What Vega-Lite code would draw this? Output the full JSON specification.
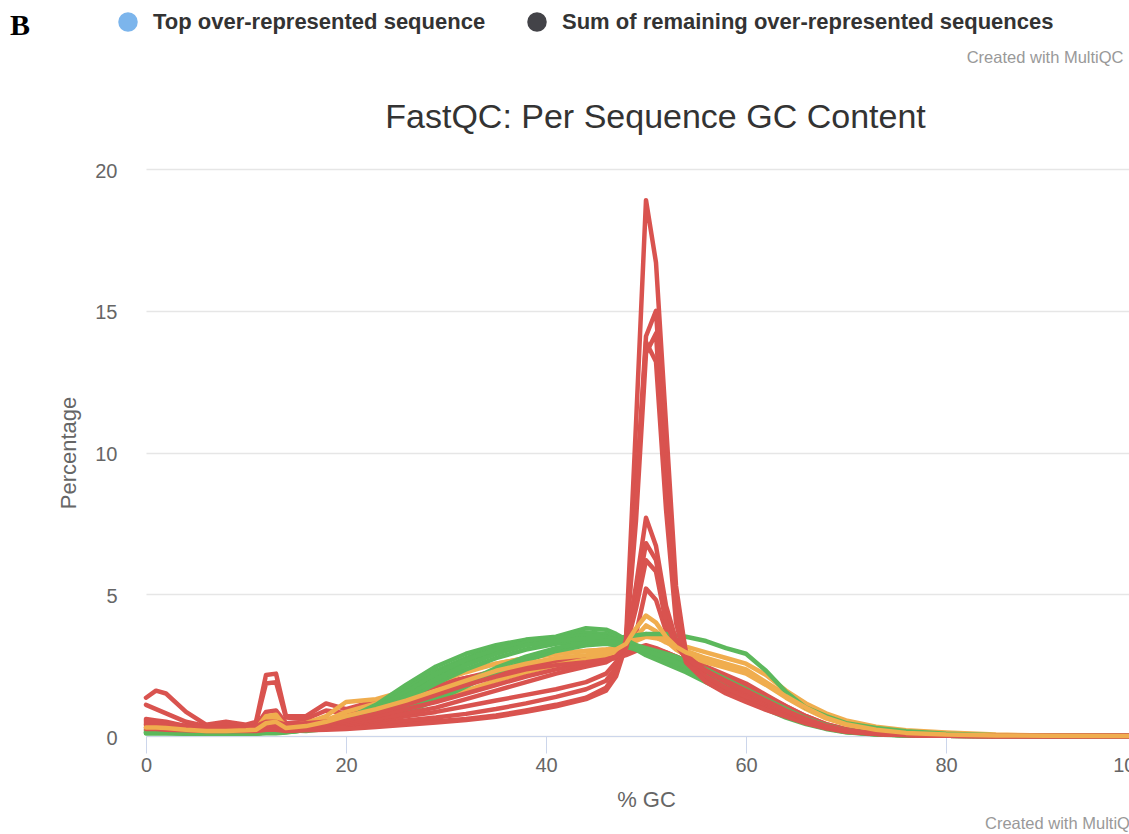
{
"$schema": "https://vega.github.io/schema/vega-lite/v6.json",
"width": 1000,
"height": 567,
"autosize": {"type": "none"},
"padding": {"left": 146, "top": 169, "right": 0, "bottom": 98},
"background": "white",
"config": {"font": "Liberation Sans", "view": {"stroke": null}},
"title": {"text": "Created with MultiQC", "orient": "bottom", "anchor": "start", "frame": "group", "dx": 839, "offset": 6, "fontSize": 16.5, "fontWeight": "normal", "color": "#999999", "font": "Liberation Sans"},
"layer": [
{
"data": {"values": [
{"gc":0,"r7":1.35,"r8":1.1,"r10":0.6,"o1":0.4,"o3":0.3,"o4":0.2,"g1":0.15,"g2":0.12,"g3":0.1,"g4":0.12,"g5":0.2,"g6":0.1,"g7":0.14,"g8":0.25,"r1":0.35,"r2":0.3,"r3":0.4,"r9":0.25,"r4":0.5,"r5":0.45,"r6":0.55,"o2":0.3},
{"gc":1,"r7":1.6,"r8":0.95,"r10":0.55,"o1":0.35,"o3":0.3,"o4":0.2,"g1":0.15,"g2":0.12,"g3":0.1,"g4":0.12,"g5":0.2,"g6":0.1,"g7":0.14,"g8":0.25,"r1":0.35,"r2":0.3,"r3":0.38,"r9":0.25,"r4":0.45,"r5":0.42,"r6":0.5,"o2":0.3},
{"gc":2,"r7":1.5,"r8":0.8,"r10":0.5,"o1":0.3,"o3":0.25,"o4":0.2,"g1":0.15,"g2":0.12,"g3":0.1,"g4":0.12,"g5":0.18,"g6":0.1,"g7":0.13,"g8":0.22,"r1":0.3,"r2":0.28,"r3":0.35,"r9":0.22,"r4":0.4,"r5":0.4,"r6":0.45,"o2":0.28},
{"gc":4,"r7":0.85,"r8":0.5,"r10":0.35,"o1":0.25,"o3":0.2,"o4":0.15,"g1":0.12,"g2":0.1,"g3":0.1,"g4":0.1,"g5":0.15,"g6":0.08,"g7":0.12,"g8":0.2,"r1":0.25,"r2":0.22,"r3":0.3,"r9":0.2,"r4":0.35,"r5":0.3,"r6":0.35,"o2":0.22},
{"gc":6,"r7":0.4,"r8":0.35,"r10":0.25,"o1":0.2,"o3":0.15,"o4":0.1,"g1":0.12,"g2":0.1,"g3":0.08,"g4":0.1,"g5":0.12,"g6":0.08,"g7":0.1,"g8":0.15,"r1":0.2,"r2":0.2,"r3":0.25,"r9":0.18,"r4":0.3,"r5":0.25,"r6":0.3,"o2":0.18},
{"gc":8,"r7":0.5,"r8":0.35,"r10":0.25,"o1":0.2,"o3":0.15,"o4":0.1,"g1":0.12,"g2":0.1,"g3":0.08,"g4":0.1,"g5":0.12,"g6":0.08,"g7":0.1,"g8":0.15,"r1":0.2,"r2":0.2,"r3":0.25,"r9":0.18,"r4":0.3,"r5":0.25,"r6":0.3,"o2":0.18},
{"gc":10,"r7":0.4,"r8":0.35,"r10":0.3,"o1":0.25,"o3":0.2,"o4":0.12,"g1":0.12,"g2":0.1,"g3":0.08,"g4":0.1,"g5":0.12,"g6":0.08,"g7":0.1,"g8":0.15,"r1":0.22,"r2":0.2,"r3":0.25,"r9":0.18,"r4":0.3,"r5":0.25,"r6":0.3,"o2":0.2},
{"gc":11,"r7":0.5,"r8":0.45,"r10":0.35,"o1":0.3,"o3":0.25,"o4":0.15,"g1":0.12,"g2":0.1,"g3":0.1,"g4":0.1,"g5":0.15,"g6":0.08,"g7":0.12,"g8":0.18,"r1":0.22,"r2":0.2,"r3":0.25,"r9":0.18,"r4":0.32,"r5":0.28,"r6":0.35,"o2":0.22},
{"gc":12,"r7":2.15,"r8":1.85,"r10":0.85,"o1":0.6,"o3":0.7,"o4":0.3,"g1":0.15,"g2":0.12,"g3":0.12,"g4":0.12,"g5":0.4,"g6":0.1,"g7":0.15,"g8":0.25,"r1":0.3,"r2":0.28,"r3":0.35,"r9":0.22,"r4":0.45,"r5":0.4,"r6":0.5,"o2":0.45},
{"gc":13,"r7":2.2,"r8":1.9,"r10":0.9,"o1":0.65,"o3":0.75,"o4":0.3,"g1":0.15,"g2":0.12,"g3":0.12,"g4":0.12,"g5":0.45,"g6":0.1,"g7":0.15,"g8":0.25,"r1":0.3,"r2":0.28,"r3":0.35,"r9":0.22,"r4":0.45,"r5":0.4,"r6":0.5,"o2":0.5},
{"gc":14,"r7":0.7,"r8":0.65,"r10":0.45,"o1":0.35,"o3":0.3,"o4":0.2,"g1":0.15,"g2":0.15,"g3":0.15,"g4":0.14,"g5":0.2,"g6":0.12,"g7":0.15,"g8":0.2,"r1":0.22,"r2":0.2,"r3":0.28,"r9":0.18,"r4":0.35,"r5":0.3,"r6":0.4,"o2":0.28},
{"gc":16,"r7":0.7,"r8":0.6,"r10":0.5,"o1":0.45,"o3":0.35,"o4":0.25,"g1":0.2,"g2":0.25,"g3":0.22,"g4":0.2,"g5":0.18,"g6":0.22,"g7":0.2,"g8":0.25,"r1":0.22,"r2":0.22,"r3":0.3,"r9":0.2,"r4":0.38,"r5":0.35,"r6":0.45,"o2":0.35},
{"gc":18,"r7":1.15,"r8":0.9,"r10":0.6,"o1":0.7,"o3":0.55,"o4":0.35,"g1":0.3,"g2":0.4,"g3":0.35,"g4":0.3,"g5":0.25,"g6":0.35,"g7":0.32,"g8":0.4,"r1":0.25,"r2":0.28,"r3":0.35,"r9":0.22,"r4":0.42,"r5":0.45,"r6":0.5,"o2":0.5},
{"gc":20,"r7":0.95,"r8":0.8,"r10":0.6,"o1":1.2,"o3":0.85,"o4":0.5,"g1":0.45,"g2":0.6,"g3":0.55,"g4":0.5,"g5":0.35,"g6":0.55,"g7":0.5,"g8":0.6,"r1":0.3,"r2":0.35,"r3":0.4,"r9":0.25,"r4":0.45,"r5":0.5,"r6":0.55,"o2":0.7},
{"gc":23,"r7":1.25,"r8":1.05,"r10":0.85,"o1":1.3,"o3":1.15,"o4":0.7,"g1":0.8,"g2":1.1,"g3":1.0,"g4":0.9,"g5":0.55,"g6":0.95,"g7":0.85,"g8":0.75,"r1":0.38,"r2":0.45,"r3":0.55,"r9":0.32,"r4":0.6,"r5":0.7,"r6":0.8,"o2":0.95},
{"gc":26,"r7":1.6,"r8":1.4,"r10":1.15,"o1":1.6,"o3":1.5,"o4":0.95,"g1":1.3,"g2":1.8,"g3":1.65,"g4":1.5,"g5":0.85,"g6":1.55,"g7":1.4,"g8":1.0,"r1":0.45,"r2":0.55,"r3":0.7,"r9":0.4,"r4":0.8,"r5":0.95,"r6":1.1,"o2":1.25},
{"gc":29,"r7":1.85,"r8":1.75,"r10":1.5,"o1":1.95,"o3":1.9,"o4":1.25,"g1":1.85,"g2":2.45,"g3":2.3,"g4":2.1,"g5":1.25,"g6":2.2,"g7":2.0,"g8":1.4,"r1":0.52,"r2":0.65,"r3":0.85,"r9":0.48,"r4":1.0,"r5":1.2,"r6":1.45,"o2":1.6},
{"gc":32,"r7":2.05,"r8":2.05,"r10":1.85,"o1":2.3,"o3":2.25,"o4":1.6,"g1":2.35,"g2":2.9,"g3":2.75,"g4":2.6,"g5":1.75,"g6":2.7,"g7":2.5,"g8":1.9,"r1":0.6,"r2":0.78,"r3":1.05,"r9":0.56,"r4":1.3,"r5":1.5,"r6":1.8,"o2":1.95},
{"gc":35,"r7":2.25,"r8":2.3,"r10":2.15,"o1":2.55,"o3":2.55,"o4":1.95,"g1":2.75,"g2":3.2,"g3":3.1,"g4":3.0,"g5":2.25,"g6":3.05,"g7":2.9,"g8":2.4,"r1":0.72,"r2":0.95,"r3":1.25,"r9":0.68,"r4":1.6,"r5":1.8,"r6":2.1,"o2":2.3},
{"gc":38,"r7":2.45,"r8":2.5,"r10":2.4,"o1":2.75,"o3":2.75,"o4":2.25,"g1":3.05,"g2":3.4,"g3":3.35,"g4":3.3,"g5":2.65,"g6":3.3,"g7":3.2,"g8":2.8,"r1":0.9,"r2":1.15,"r3":1.45,"r9":0.85,"r4":1.9,"r5":2.1,"r6":2.35,"o2":2.55},
{"gc":41,"r7":2.6,"r8":2.65,"r10":2.55,"o1":2.9,"o3":2.9,"o4":2.5,"g1":3.25,"g2":3.5,"g3":3.45,"g4":3.4,"g5":3.0,"g6":3.45,"g7":3.35,"g8":3.1,"r1":1.1,"r2":1.38,"r3":1.65,"r9":1.05,"r4":2.2,"r5":2.35,"r6":2.5,"o2":2.75},
{"gc":44,"r7":2.7,"r8":2.75,"r10":2.65,"o1":3.0,"o3":3.0,"o4":2.7,"g1":3.35,"g2":3.8,"g3":3.65,"g4":3.5,"g5":3.2,"g6":3.55,"g7":3.45,"g8":3.3,"r1":1.35,"r2":1.65,"r3":1.9,"r9":1.3,"r4":2.45,"r5":2.55,"r6":2.6,"o2":2.85},
{"gc":46,"r7":2.75,"r8":2.8,"r10":2.7,"o1":3.05,"o3":3.05,"o4":2.85,"g1":3.4,"g2":3.75,"g3":3.6,"g4":3.45,"g5":3.25,"g6":3.5,"g7":3.45,"g8":3.35,"r1":1.7,"r2":1.95,"r3":2.2,"r9":1.6,"r4":2.6,"r5":2.65,"r6":2.7,"o2":2.95},
{"gc":47,"r7":2.8,"r8":2.85,"r10":2.75,"o1":3.1,"o3":3.1,"o4":2.95,"g1":3.45,"g2":3.6,"g3":3.45,"g4":3.35,"g5":3.2,"g6":3.4,"g7":3.4,"g8":3.3,"r1":2.2,"r2":2.4,"r3":2.6,"r9":2.1,"r4":2.8,"r5":2.8,"r6":2.8,"o2":3.05},
{"gc":48,"r7":3.0,"r8":2.95,"r10":2.85,"o1":3.2,"o3":3.2,"o4":3.1,"g1":3.5,"g2":3.4,"g3":3.3,"g4":3.25,"g5":3.15,"g6":3.25,"g7":3.3,"g8":3.2,"r1":3.4,"r2":3.3,"r3":3.3,"r9":3.2,"r4":3.2,"r5":3.15,"r6":3.1,"o2":3.25},
{"gc":49,"r7":3.6,"r8":3.1,"r10":3.0,"o1":3.35,"o3":3.4,"o4":3.5,"g1":3.55,"g2":3.2,"g3":3.1,"g4":3.15,"g5":3.05,"g6":3.05,"g7":3.2,"g8":3.1,"r1":11.0,"r2":8.6,"r3":7.6,"r9":8.2,"r4":5.3,"r5":4.8,"r6":4.5,"o2":3.8},
{"gc":50,"r7":5.2,"r8":3.2,"r10":3.1,"o1":3.5,"o3":3.6,"o4":3.9,"g1":3.6,"g2":3.0,"g3":2.95,"g4":3.05,"g5":2.95,"g6":2.85,"g7":3.1,"g8":3.0,"r1":18.9,"r2":14.1,"r3":13.5,"r9":13.9,"r4":7.7,"r5":6.8,"r6":6.2,"o2":4.25},
{"gc":51,"r7":4.8,"r8":3.1,"r10":3.05,"o1":3.45,"o3":3.5,"o4":3.7,"g1":3.6,"g2":2.85,"g3":2.8,"g4":2.95,"g5":2.85,"g6":2.7,"g7":3.0,"g8":2.9,"r1":16.7,"r2":15.0,"r3":14.2,"r9":13.2,"r4":6.7,"r5":6.2,"r6":5.8,"o2":4.0},
{"gc":52,"r7":3.7,"r8":2.95,"r10":2.95,"o1":3.35,"o3":3.3,"o4":3.35,"g1":3.6,"g2":2.7,"g3":2.65,"g4":2.85,"g5":2.75,"g6":2.55,"g7":2.9,"g8":2.75,"r1":11.0,"r2":9.5,"r3":8.6,"r9":8.0,"r4":4.6,"r5":4.3,"r6":4.0,"o2":3.5},
{"gc":53,"r7":3.1,"r8":2.8,"r10":2.8,"o1":3.25,"o3":3.15,"o4":3.05,"g1":3.55,"g2":2.55,"g3":2.5,"g4":2.7,"g5":2.6,"g6":2.4,"g7":2.8,"g8":2.6,"r1":5.3,"r2":4.9,"r3":4.4,"r9":4.0,"r4":3.4,"r5":3.3,"r6":3.2,"o2":3.15},
{"gc":54,"r7":2.8,"r8":2.65,"r10":2.65,"o1":3.15,"o3":3.0,"o4":2.85,"g1":3.5,"g2":2.4,"g3":2.35,"g4":2.55,"g5":2.45,"g6":2.25,"g7":2.65,"g8":2.45,"r1":2.9,"r2":2.9,"r3":2.8,"r9":2.6,"r4":2.85,"r5":2.8,"r6":2.75,"o2":2.95},
{"gc":56,"r7":2.45,"r8":2.4,"r10":2.35,"o1":2.95,"o3":2.75,"o4":2.6,"g1":3.35,"g2":2.05,"g3":2.0,"g4":2.25,"g5":2.15,"g6":1.9,"g7":2.35,"g8":2.1,"r1":2.0,"r2":2.1,"r3":2.1,"r9":1.9,"r4":2.3,"r5":2.3,"r6":2.3,"o2":2.7},
{"gc":58,"r7":2.15,"r8":2.1,"r10":2.05,"o1":2.75,"o3":2.55,"o4":2.4,"g1":3.1,"g2":1.7,"g3":1.65,"g4":1.9,"g5":1.8,"g6":1.55,"g7":2.0,"g8":1.75,"r1":1.6,"r2":1.7,"r3":1.7,"r9":1.5,"r4":1.9,"r5":1.9,"r6":1.95,"o2":2.5},
{"gc":60,"r7":1.85,"r8":1.8,"r10":1.75,"o1":2.55,"o3":2.35,"o4":2.2,"g1":2.9,"g2":1.4,"g3":1.35,"g4":1.55,"g5":1.5,"g6":1.25,"g7":1.65,"g8":1.45,"r1":1.3,"r2":1.4,"r3":1.4,"r9":1.2,"r4":1.5,"r5":1.55,"r6":1.6,"o2":2.3},
{"gc":62,"r7":1.45,"r8":1.4,"r10":1.35,"o1":2.15,"o3":1.9,"o4":1.8,"g1":2.3,"g2":1.05,"g3":1.0,"g4":1.2,"g5":1.15,"g6":0.95,"g7":1.3,"g8":1.1,"r1":1.0,"r2":1.1,"r3":1.1,"r9":0.92,"r4":1.15,"r5":1.2,"r6":1.25,"o2":1.85},
{"gc":64,"r7":1.05,"r8":1.05,"r10":1.0,"o1":1.6,"o3":1.45,"o4":1.35,"g1":1.55,"g2":0.75,"g3":0.7,"g4":0.88,"g5":0.82,"g6":0.65,"g7":0.95,"g8":0.8,"r1":0.75,"r2":0.8,"r3":0.8,"r9":0.68,"r4":0.85,"r5":0.88,"r6":0.9,"o2":1.4},
{"gc":66,"r7":0.7,"r8":0.7,"r10":0.65,"o1":1.15,"o3":1.0,"o4":0.95,"g1":1.0,"g2":0.5,"g3":0.45,"g4":0.58,"g5":0.55,"g6":0.42,"g7":0.62,"g8":0.52,"r1":0.5,"r2":0.55,"r3":0.55,"r9":0.45,"r4":0.55,"r5":0.58,"r6":0.6,"o2":1.0},
{"gc":68,"r7":0.42,"r8":0.42,"r10":0.4,"o1":0.8,"o3":0.65,"o4":0.62,"g1":0.7,"g2":0.3,"g3":0.27,"g4":0.35,"g5":0.33,"g6":0.25,"g7":0.38,"g8":0.3,"r1":0.3,"r2":0.33,"r3":0.33,"r9":0.27,"r4":0.32,"r5":0.35,"r6":0.36,"o2":0.65},
{"gc":70,"r7":0.24,"r8":0.24,"r10":0.22,"o1":0.55,"o3":0.42,"o4":0.4,"g1":0.45,"g2":0.15,"g3":0.14,"g4":0.19,"g5":0.17,"g6":0.13,"g7":0.2,"g8":0.15,"r1":0.17,"r2":0.18,"r3":0.18,"r9":0.15,"r4":0.17,"r5":0.19,"r6":0.2,"o2":0.42},
{"gc":73,"r7":0.11,"r8":0.11,"r10":0.1,"o1":0.33,"o3":0.22,"o4":0.2,"g1":0.28,"g2":0.07,"g3":0.06,"g4":0.08,"g5":0.07,"g6":0.05,"g7":0.09,"g8":0.06,"r1":0.08,"r2":0.08,"r3":0.08,"r9":0.07,"r4":0.08,"r5":0.08,"r6":0.09,"o2":0.22},
{"gc":76,"r7":0.05,"r8":0.05,"r10":0.05,"o1":0.2,"o3":0.11,"o4":0.1,"g1":0.17,"g2":0.03,"g3":0.03,"g4":0.04,"g5":0.03,"g6":0.02,"g7":0.04,"g8":0.03,"r1":0.04,"r2":0.04,"r3":0.04,"r9":0.03,"r4":0.04,"r5":0.04,"r6":0.04,"o2":0.11},
{"gc":80,"r7":0.02,"r8":0.02,"r10":0.02,"o1":0.12,"o3":0.05,"o4":0.05,"g1":0.08,"g2":0.01,"g3":0.01,"g4":0.01,"g5":0.01,"g6":0.01,"g7":0.01,"g8":0.01,"r1":0.01,"r2":0.01,"r3":0.01,"r9":0.01,"r4":0.01,"r5":0.01,"r6":0.01,"o2":0.05},
{"gc":85,"r7":0.01,"r8":0.01,"r10":0.01,"o1":0.05,"o3":0.02,"o4":0.02,"g1":0.03,"g2":0,"g3":0,"g4":0,"g5":0,"g6":0,"g7":0,"g8":0,"r1":0,"r2":0,"r3":0,"r9":0,"r4":0,"r5":0,"r6":0,"o2":0.02},
{"gc":90,"r7":0,"r8":0,"r10":0,"o1":0.02,"o3":0.01,"o4":0.01,"g1":0.01,"g2":0,"g3":0,"g4":0,"g5":0,"g6":0,"g7":0,"g8":0,"r1":0,"r2":0,"r3":0,"r9":0,"r4":0,"r5":0,"r6":0,"o2":0.01},
{"gc":100,"r7":0,"r8":0,"r10":0,"o1":0,"o3":0,"o4":0,"g1":0,"g2":0,"g3":0,"g4":0,"g5":0,"g6":0,"g7":0,"g8":0,"r1":0,"r2":0,"r3":0,"r9":0,"r4":0,"r5":0,"r6":0,"o2":0}
]},
"transform": [{"fold": ["r7","r8","r10","o1","o3","o4","g1","g2","g3","g4","g5","g6","g7","g8","r1","r2","r3","r9","r4","r5","r6","o2"], "as": ["sample", "pct"]}],
"mark": {"type": "line", "strokeWidth": 4.5, "strokeJoin": "round", "strokeCap": "round"},
"encoding": {
"x": {"field": "gc", "type": "quantitative", "scale": {"domain": [0, 100], "nice": false, "zero": false},
"axis": {"title": "% GC", "values": [0, 20, 40, 60, 80, 100], "grid": false, "domainColor": "#ccd6eb", "tickColor": "#ccd6eb", "tickSize": 17, "labelPadding": 2, "labelFontSize": 20, "labelColor": "#666666", "labelFlush": false, "labelAlign": {"condition": {"test": "datum.value == 100", "value": "right"}, "value": "center"}, "titleFontSize": 22, "titleFontWeight": "normal", "titleColor": "#666666", "titlePadding": 14}},
"y": {"field": "pct", "type": "quantitative", "scale": {"domain": [0, 20], "nice": false},
"axis": {"title": "Percentage", "values": [0, 5, 10, 15, 20], "grid": true, "gridColor": "#e6e6e6", "gridWidth": 1.5, "domain": false, "ticks": false, "labelPadding": 29, "labelOffset": 2, "labelFontSize": 20, "labelColor": "#666666", "titleFontSize": 22, "titleFontWeight": "normal", "titleColor": "#666666", "titlePadding": 14}},
"color": {"field": "sample", "type": "nominal", "legend": null,
"scale": {"domain": ["r7","r8","r10","o1","o3","o4","g1","g2","g3","g4","g5","g6","g7","g8","r1","r2","r3","r9","r4","r5","r6","o2"],
"range": ["#d9534f","#d9534f","#d9534f","#f0ad4e","#f0ad4e","#f0ad4e","#5cb85c","#5cb85c","#5cb85c","#5cb85c","#5cb85c","#5cb85c","#5cb85c","#5cb85c","#d9534f","#d9534f","#d9534f","#d9534f","#d9534f","#d9534f","#d9534f","#f0ad4e"]}}
}
},
{
"data": {"values": [{"cat": "Top over-represented sequence"}, {"cat": "Sum of remaining over-represented sequences"}]},
"mark": {"type": "point", "filled": true, "opacity": 0},
"encoding": {
"x": {"datum": 0, "type": "quantitative", "scale": {"domain": [0, 1]},
"axis": {"orient": "top", "labels": false, "ticks": false, "domain": false, "grid": false, "title": "FastQC: Per Sequence GC Content", "titleX": 509, "titleY": -52, "titleAlign": "center", "titleBaseline": "middle", "titleAngle": 0, "titleFontSize": 34, "titleFontWeight": "normal", "titleColor": "#333333", "titleFont": "Liberation Sans"}},
"fill": {"field": "cat", "type": "nominal",
"scale": {"domain": ["Top over-represented sequence", "Sum of remaining over-represented sequences"], "range": ["#7cb5ec", "#434348"]},
"legend": {"title": "B", "orient": "none", "legendX": -136, "legendY": -158, "direction": "horizontal", "titleOrient": "left", "titleAnchor": "start", "titleFont": "Liberation Serif", "titleFontSize": 30, "titleFontWeight": "bold", "titleColor": "#000000", "titlePadding": 86, "titleBaseline": "top", "labelFont": "Liberation Sans", "labelFontSize": 22, "labelFontWeight": "bold", "labelColor": "#333333", "labelLimit": 700, "labelOffset": 14, "symbolType": "circle", "symbolSize": 380, "symbolStrokeWidth": 0, "symbolOpacity": 1, "columnPadding": 40, "padding": 0}}
}
},
{
"data": {"values": [{"note": "Created with MultiQC"}]},
"mark": {"type": "point", "opacity": 0},
"encoding": {
"x": {"datum": 0, "type": "quantitative", "scale": {"domain": [0, 1]},
"axis": {"orient": "top", "labels": false, "ticks": false, "domain": false, "grid": false, "title": "Created with MultiQC", "titleX": 977, "titleY": -112, "titleAlign": "right", "titleBaseline": "middle", "titleAngle": 0, "titleFontSize": 16.5, "titleFontWeight": "normal", "titleColor": "#999999", "titleFont": "Liberation Sans"}}
}
}
],
"resolve": {"scale": {"x": "independent"}, "axis": {"x": "independent"}}
}
